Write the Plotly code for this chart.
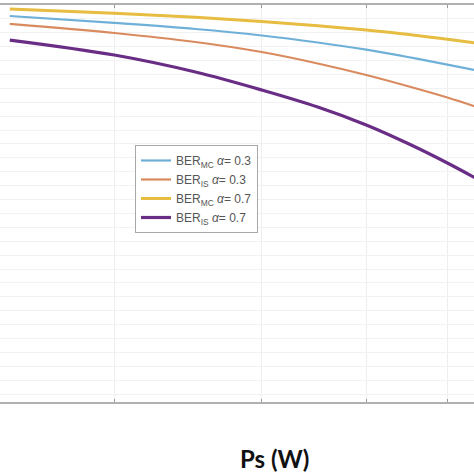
import plotly.graph_objects as go

# Transmit power Ps (W)
ps = [1.5, 2.0, 2.5, 3.0, 3.5, 4.0, 4.5, 5.0, 5.4]

# log10(BER)
ber_mc_03 = [-0.111, -0.181, -0.242, -0.307, -0.378, -0.450, -0.526, -0.601, -0.655]
ber_is_03 = [-0.191, -0.282, -0.373, -0.474, -0.589, -0.705, -0.821, -0.932, -1.023]
ber_mc_07 = [-0.040, -0.083, -0.123, -0.166, -0.209, -0.252, -0.297, -0.345, -0.381]
ber_is_07 = [-0.353, -0.504, -0.675, -0.856, -1.028, -1.209, -1.401, -1.592, -1.743]

names = ["BER<sub>MC</sub> <i>α</i>= 0.3", "BER<sub>IS</sub> <i>α</i>= 0.3",
         "BER<sub>MC</sub> <i>α</i>= 0.7", "BER<sub>IS</sub> <i>α</i>= 0.7"]
series = [ber_mc_03, ber_is_03, ber_mc_07, ber_is_07]
colors = ["#6eb0d8", "#d98b5f", "#e6bd40", "#6a2d86"]
widths = [2.2, 2.2, 3, 3.2]

fig = go.Figure()
for n, s, c, w in zip(names, series, colors, widths):
    fig.add_trace(go.Scatter(x=ps, y=s, mode="lines", name=n,
                             line=dict(color=c, width=w, shape="spline", smoothing=1.0)))

fig.update_layout(
    width=474, height=474,
    margin=dict(l=0, r=0, t=5, b=72),
    paper_bgcolor="white", plot_bgcolor="white",
    showlegend=True,
    legend=dict(x=135/474, y=(402-145)/397, xanchor="left", yanchor="top",
                bgcolor="white", bordercolor="#a8a8a8", borderwidth=1,
                font=dict(family="Liberation Sans, Arial", size=12, color="#555"),
                itemwidth=30, tracegroupgap=0),
    font=dict(family="Liberation Sans, Arial"),
)
fig.update_xaxes(type="log", range=[0.1644, 0.7308],
                 tickvals=[2, 3, 4, 5], showticklabels=False,
                 ticks="inside", ticklen=3, tickcolor="#999",
                 showgrid=True, gridcolor="#eeeeee", gridwidth=1,
                 showline=True, linecolor="#b0b0b0", linewidth=1.5, mirror="ticks",
                 zeroline=False)
fig.update_yaxes(range=[-4, 0], dtick=0.14, showticklabels=False,
                 showgrid=True, gridcolor="#f2f2f2", gridwidth=1,
                 showline=False, zeroline=False, ticks="")
fig.add_annotation(text="<b>Ps (W)</b>", x=274/474, y=-56/397, xref="paper", yref="paper",
                   xanchor="center", yanchor="middle", showarrow=False,
                   font=dict(family="Lato, Open Sans", size=24, color="#111"))

fig.write_html("out.html")
